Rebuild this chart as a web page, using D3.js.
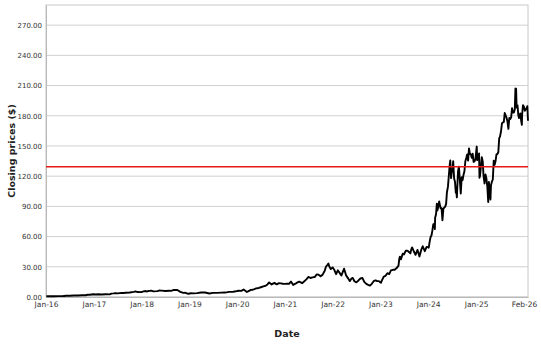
<!DOCTYPE html>
<html>
<head>
<meta charset="utf-8">
<script src="https://cdn.jsdelivr.net/npm/d3@7"></script>
<style>
  body { margin: 0; background: #fff; }
  #chart text { font-family: "DejaVu Sans", sans-serif; }
</style>
</head>
<body>
<div id="chart"></div>
<script>
/** Data (split-adjusted closes) */
const dates = [
  "2016-01-04","2016-02-08","2016-03-01","2016-04-01","2016-05-02","2016-05-20","2016-06-01","2016-07-01","2016-08-01","2016-08-15","2016-09-01","2016-10-03","2016-11-01","2016-11-14","2016-12-01","2016-12-28",
  "2017-01-17","2017-02-01","2017-03-01","2017-04-03","2017-05-01","2017-05-15","2017-06-01","2017-06-15","2017-07-03","2017-08-01","2017-08-15","2017-09-01","2017-10-02","2017-11-01","2017-11-15","2017-12-01","2017-12-29",
  "2018-01-16","2018-02-01","2018-02-08","2018-03-01","2018-03-15","2018-04-02","2018-05-01","2018-05-15","2018-06-01","2018-07-02","2018-08-01","2018-08-15","2018-09-04","2018-10-01","2018-10-24","2018-11-16","2018-12-03","2018-12-24",
  "2019-01-15","2019-02-01","2019-03-01","2019-04-01","2019-05-01","2019-06-03","2019-07-01","2019-08-01","2019-09-03","2019-10-01","2019-11-01","2019-12-02","2019-12-31",
  "2020-01-15","2020-02-03","2020-02-20","2020-03-16","2020-04-01","2020-04-15","2020-05-01","2020-05-26","2020-06-15","2020-07-01","2020-07-20","2020-08-03","2020-08-20","2020-09-02","2020-09-21","2020-10-12","2020-10-30","2020-11-16","2020-12-01","2020-12-16","2020-12-31",
  "2021-01-15","2021-02-01","2021-02-16","2021-03-05","2021-03-22","2021-04-07","2021-04-20","2021-05-12","2021-05-27","2021-06-15","2021-06-30","2021-07-15","2021-07-30","2021-08-16","2021-08-31","2021-09-15","2021-09-30","2021-10-15","2021-11-01","2021-11-10","2021-11-22","2021-11-29","2021-12-06","2021-12-17","2021-12-31",
  "2022-01-14","2022-01-27","2022-02-09","2022-02-24","2022-03-08","2022-03-29","2022-04-13","2022-04-29","2022-05-11","2022-05-26","2022-06-03","2022-06-16","2022-07-01","2022-07-15","2022-08-01","2022-08-16","2022-08-30","2022-09-15","2022-09-29","2022-10-13","2022-10-27","2022-11-10","2022-11-23","2022-12-06","2022-12-20","2022-12-30",
  "2023-01-05","2023-01-13","2023-01-27","2023-02-08","2023-02-23","2023-03-09","2023-03-22","2023-04-06","2023-04-20","2023-05-05","2023-05-19","2023-05-25","2023-05-30","2023-06-07","2023-06-20","2023-06-30","2023-07-13","2023-07-27","2023-08-07","2023-08-18","2023-08-24","2023-08-31","2023-09-13","2023-09-26","2023-10-11","2023-10-26","2023-11-08","2023-11-20","2023-12-06","2023-12-19","2023-12-29",
  "2024-01-05","2024-01-12","2024-01-19","2024-01-26","2024-02-02","2024-02-09","2024-02-16","2024-02-21","2024-02-23","2024-03-01","2024-03-07","2024-03-11","2024-03-15","2024-03-25","2024-04-01","2024-04-05","2024-04-12","2024-04-19","2024-04-26","2024-05-03","2024-05-10","2024-05-17","2024-05-23","2024-05-31","2024-06-07","2024-06-14","2024-06-18","2024-06-24","2024-06-28","2024-07-05","2024-07-10","2024-07-17","2024-07-24","2024-07-30","2024-08-01","2024-08-07","2024-08-16","2024-08-23","2024-08-29","2024-09-06","2024-09-13","2024-09-20","2024-09-27","2024-10-04","2024-10-11","2024-10-18","2024-10-25","2024-11-01","2024-11-08","2024-11-15","2024-11-22","2024-11-29","2024-12-06","2024-12-13","2024-12-20","2024-12-27",
  "2025-01-06","2025-01-10","2025-01-17","2025-01-24","2025-01-27","2025-01-31","2025-02-07","2025-02-14","2025-02-21","2025-02-27","2025-03-07","2025-03-14","2025-03-21","2025-03-28","2025-04-04","2025-04-09","2025-04-11","2025-04-17","2025-04-21","2025-04-25","2025-05-02","2025-05-09","2025-05-16","2025-05-23","2025-05-30","2025-06-06","2025-06-13","2025-06-20","2025-06-27","2025-07-03","2025-07-11","2025-07-18","2025-07-25","2025-08-01","2025-08-08","2025-08-15","2025-08-22","2025-08-29","2025-09-05","2025-09-12","2025-09-19","2025-09-26","2025-10-03","2025-10-10","2025-10-17","2025-10-24","2025-10-29","2025-11-03","2025-11-07","2025-11-14","2025-11-20","2025-11-25","2025-12-01","2025-12-05","2025-12-12","2025-12-17","2025-12-19","2025-12-26",
  "2026-01-02","2026-01-09","2026-01-16","2026-01-23","2026-01-28","2026-02-02"
];
const closes = [
  0.80,0.68,0.80,0.89,0.88,1.05,1.17,1.18,1.45,1.55,1.53,1.71,1.75,2.20,2.30,2.70,
  2.55,2.75,2.55,2.70,2.60,3.40,3.60,3.90,3.60,4.10,4.00,4.15,4.50,5.15,5.50,4.90,4.85,
  5.60,6.00,5.50,6.10,6.25,5.60,5.80,6.40,6.30,6.00,6.20,6.10,7.00,7.00,5.10,4.10,4.20,3.20,
  3.70,3.60,3.90,4.50,4.50,3.50,4.10,4.10,4.30,4.40,5.10,5.20,5.90,
  6.20,6.10,7.40,5.00,6.10,7.10,7.20,8.60,9.00,9.70,10.50,11.00,12.50,14.40,12.50,14.00,12.50,13.70,13.50,13.20,13.05,
  13.10,13.10,15.30,12.00,13.20,14.50,15.20,13.70,15.30,17.80,20.00,18.90,19.50,19.80,22.40,22.20,20.70,22.00,26.00,30.00,32.00,33.30,30.30,27.70,29.40,
  26.80,22.70,26.50,23.70,21.30,28.10,21.50,18.50,15.80,18.60,19.00,15.60,14.50,16.20,18.40,19.00,15.00,13.00,12.10,11.30,13.10,15.70,16.50,15.90,15.80,14.60,
  14.20,16.80,20.30,21.00,23.60,22.80,26.40,27.00,27.10,28.70,31.20,37.90,40.10,37.40,43.00,42.30,45.90,45.90,44.70,43.30,47.10,49.30,45.40,41.90,46.80,40.30,46.50,50.40,45.50,49.60,49.50,
  49.00,54.70,59.50,61.00,66.10,72.10,72.60,67.50,78.80,82.20,92.60,85.80,87.80,95.00,90.30,88.00,88.10,76.20,87.70,88.80,89.80,92.50,103.80,109.60,120.90,131.90,135.60,118.10,123.50,125.80,134.90,117.90,114.20,103.70,109.20,98.90,124.60,129.40,117.60,102.80,119.10,116.00,121.40,124.90,134.80,138.00,141.50,135.40,147.60,141.90,141.90,138.30,142.40,134.30,134.70,137.00,
  149.40,135.90,137.70,142.60,118.40,120.10,129.80,138.90,134.40,120.20,112.70,121.70,117.70,109.70,94.30,114.30,110.90,101.50,96.90,111.00,114.50,116.70,135.40,131.30,135.10,141.70,142.00,143.80,157.80,159.30,164.90,172.40,173.50,173.70,182.70,180.50,178.00,174.20,167.00,177.80,176.70,178.20,187.60,183.20,183.20,186.30,207.00,206.90,188.20,190.20,180.60,177.80,179.90,182.40,175.00,170.90,181.00,190.50,
  188.90,185.00,186.20,187.70,189.50,175.00
];
const refLine = [129.4];
const yTicks = [0, 30, 60, 90, 120, 150, 180, 210, 240, 270];
const yMax = 290;

/** Graph configs */
const width = 541;
const height = 344;
const margin = { top: 5, right: 13, bottom: 47, left: 46 };

const parse = d3.timeParse("%Y-%m-%d");
const data = dates.map((d, i) => ({ date: parse(d), close: closes[i] }));

const svg = d3
  .select("#chart")
  .append("svg")
  .attr("width", width)
  .attr("height", height);

const x = d3
  .scaleTime()
  .domain([d3.timeYear.floor(data[0].date), data[data.length - 1].date])
  .range([margin.left, width - margin.right]);

const y = d3
  .scaleLinear()
  .domain([0, yMax])
  .range([height - margin.bottom, margin.top]);

/** Gridlines */
svg
  .append("g")
  .selectAll("line")
  .data(yTicks)
  .join("line")
  .attr("x1", margin.left)
  .attr("x2", width - margin.right)
  .attr("y1", (d) => y(d))
  .attr("y2", (d) => y(d))
  .style("stroke", "#d0d0d0")
  .style("stroke-width", 1);

/** Frame */
svg
  .append("rect")
  .attr("x", margin.left)
  .attr("y", margin.top)
  .attr("width", width - margin.left - margin.right)
  .attr("height", height - margin.top - margin.bottom)
  .style("fill", "none")
  .style("stroke", "#c8c8c8")
  .style("stroke-width", 1);

/** Y axis */
const yAxis = svg
  .append("g")
  .attr("transform", `translate(${margin.left},0)`)
  .call(d3.axisLeft(y).tickValues(yTicks).tickFormat(d3.format(".2f")).tickSize(0).tickPadding(4));
yAxis.select(".domain").style("stroke", "#b8b8b8");
yAxis.selectAll("text").style("font-size", "7px").style("fill", "#333");

/** X axis: Jan of each year, plus the last date */
const [x0, x1] = x.domain();
const xTicks = d3.timeYear.range(x0, d3.timeYear.floor(x1)).concat([x1]);
const xAxis = svg
  .append("g")
  .attr("transform", `translate(0,${height - margin.bottom})`)
  .call(d3.axisBottom(x).tickValues(xTicks).tickFormat(d3.timeFormat("%b-%y")).tickSize(0).tickPadding(5));
xAxis.select(".domain").style("stroke", "#b8b8b8");
xAxis.selectAll("text").style("font-size", "7.5px").style("fill", "#333");
xAxis.selectAll(".tick:last-of-type text").attr("dx", "-4");

/** Closing price line */
const line = d3
  .line()
  .x((d) => x(d.date))
  .y((d) => y(d.close));

svg
  .append("path")
  .datum(data)
  .attr("d", line)
  .style("fill", "none")
  .style("stroke", "#000")
  .style("stroke-width", 1.9)
  .style("stroke-linejoin", "round");

/** Reference line */
svg
  .append("g")
  .selectAll("line")
  .data(refLine)
  .join("line")
  .attr("x1", margin.left)
  .attr("x2", width - margin.right)
  .attr("y1", (d) => y(d))
  .attr("y2", (d) => y(d))
  .style("stroke", "#e8191b")
  .style("stroke-width", 1.5);

/** Axis titles */
svg
  .append("text")
  .attr("x", (margin.left + width - margin.right) / 2)
  .attr("y", 337)
  .attr("text-anchor", "middle")
  .style("font-size", "9.5px")
  .style("font-weight", "bold")
  .style("fill", "#222")
  .text("Date");

svg
  .append("text")
  .attr("transform", `translate(15,${(margin.top + height - margin.bottom) / 2}) rotate(-90)`)
  .attr("text-anchor", "middle")
  .style("font-size", "9.5px")
  .style("font-weight", "bold")
  .style("fill", "#222")
  .text("Closing prices ($)");
</script>
</body>
</html>
